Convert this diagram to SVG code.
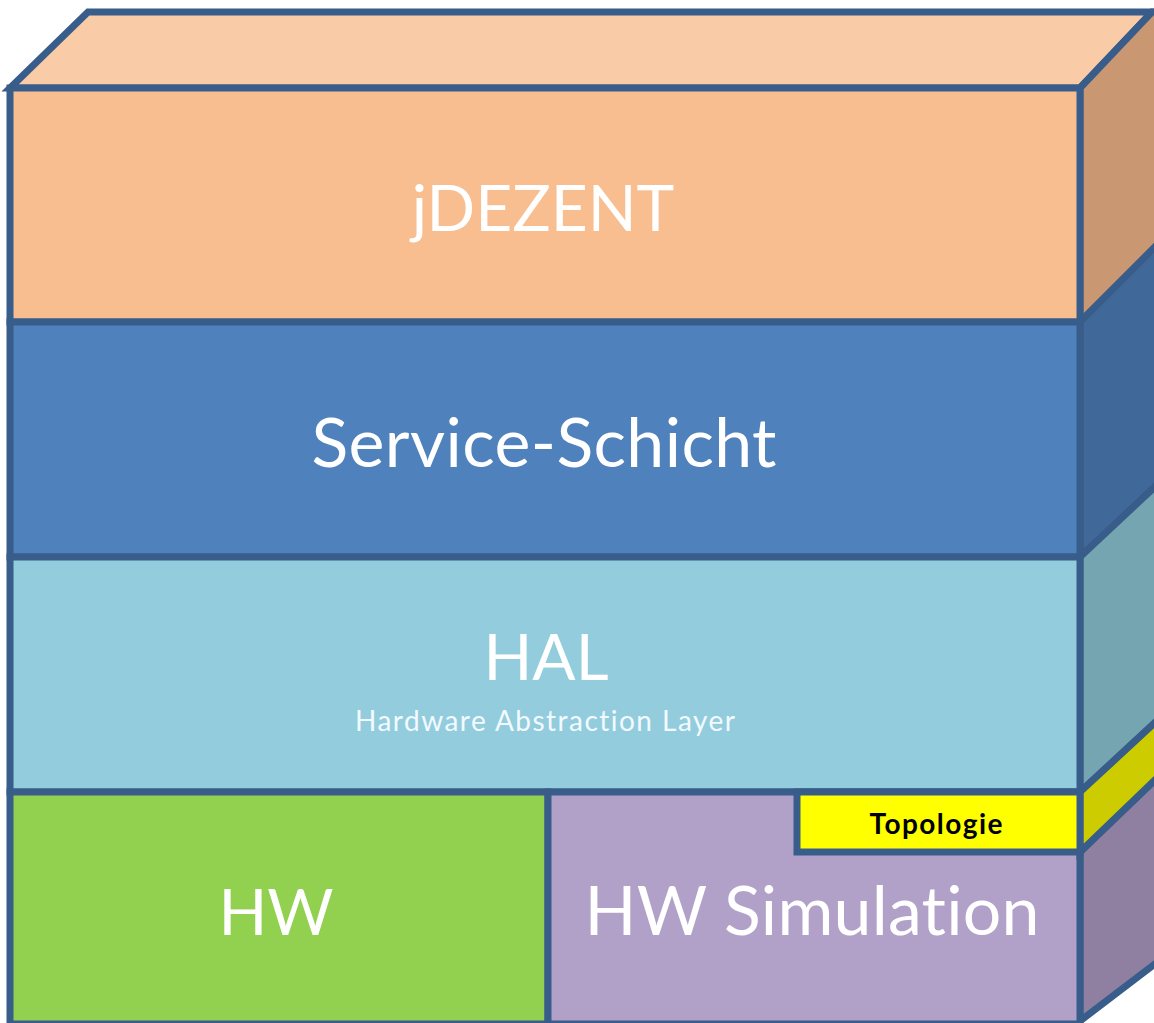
<svg xmlns="http://www.w3.org/2000/svg" width="1154" height="1023" viewBox="0 0 1154 1023">
<style>
.edge{stroke:#385D8A;stroke-width:7;stroke-linejoin:miter}
text{font-family:Lato,"Open Sans","Liberation Sans",sans-serif;font-variant-ligatures:none;text-anchor:middle}
.big{fill:#FFFFFF;font-size:64px}
.wide{font-size:68px}
.sub{fill:#F2FAFF;font-size:28px}
.topo{fill:#000000;font-weight:bold;font-size:28px}
</style>
<rect width="1154" height="1023" fill="#FFFFFF"/>
<g id="top-face">
<polygon class="edge" points="10,88 88,12 1152,12 1080,88" fill="#F9CBA6"/>
</g>
<g id="jdezent">
<polygon class="edge" points="1080,88 1152,12 1160,12 1160,242 1080,322" fill="#C99872"/>
<rect class="edge" x="10" y="88" width="1070" height="234" fill="#F8BE8F"/>
<text class="big" x="543" y="231">jDEZENT</text>
</g>
<g id="service-schicht">
<polygon class="edge" points="1080,322 1160,242 1160,482 1080,557" fill="#40699A"/>
<rect class="edge" x="10" y="322" width="1070" height="235" fill="#4F81BC"/>
<text class="big wide" x="544" y="467" textLength="465">Service-Schicht</text>
</g>
<g id="hal">
<polygon class="edge" points="1080,557 1160,482 1160,718 1080,792" fill="#75A5B1"/>
<rect class="edge" x="10" y="557" width="1070" height="235" fill="#93CDDD"/>
<text class="big" x="546" y="680">HAL</text>
<text class="sub" x="545" y="731" textLength="380">Hardware Abstraction Layer</text>
</g>
<g id="hw">
<rect class="edge" x="10" y="792" width="538" height="232" fill="#92D050"/>
<text class="big" x="276" y="935">HW</text>
</g>
<g id="hw-simulation">
<polygon class="edge" points="1080,852 1160,775 1160,960 1080,1021" fill="#8F80A1"/>
<rect class="edge" x="548" y="792" width="532" height="232" fill="#B1A0C7"/>
<text class="big wide" x="812" y="935" textLength="455">HW Simulation</text>
</g>
<g id="topologie">
<polygon class="edge" points="1080,792 1160,718 1160,775 1080,852" fill="#CCCC00"/>
<rect class="edge" x="797" y="792" width="283" height="60" fill="#FFFF00"/>
<text class="topo" x="936" y="834" textLength="133">Topologie</text>
</g>
</svg>
